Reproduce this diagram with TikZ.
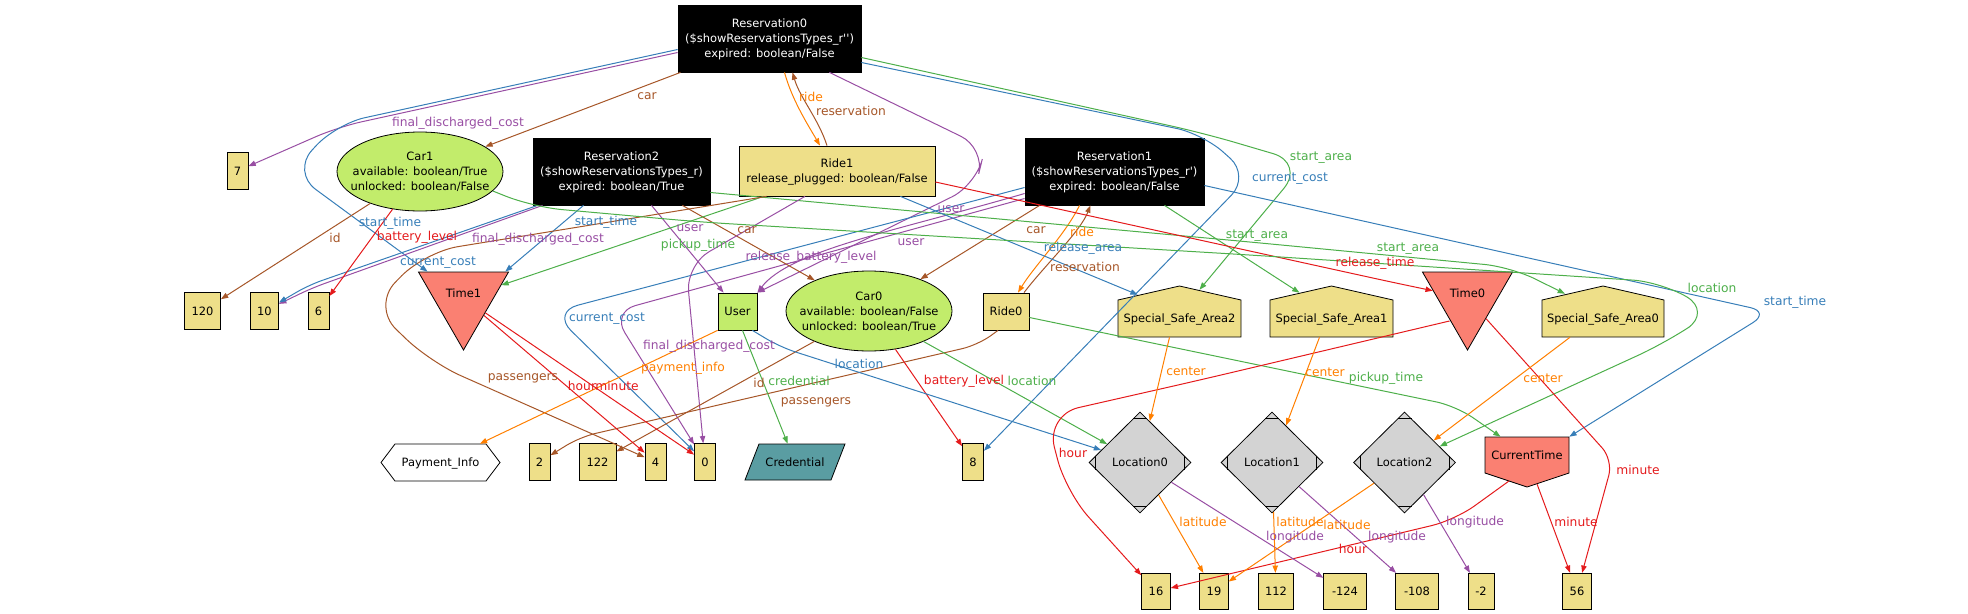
\documentclass[tikz,border=0pt]{standalone}
\usepackage{fontspec}
\setmainfont{DejaVu Sans}[Ligatures=TeXOff]
\usetikzlibrary{arrows.meta,shapes.geometric,calc}
\definecolor{cbr}{RGB}{166,86,40}
\definecolor{cor}{RGB}{255,127,0}
\definecolor{cpu}{RGB}{152,78,163}
\definecolor{cgr}{RGB}{77,175,74}
\definecolor{cbl}{RGB}{55,126,184}
\definecolor{cre}{RGB}{228,26,28}
\definecolor{khaki}{RGB}{238,223,137}
\definecolor{lgreen}{RGB}{194,236,107}
\definecolor{salm}{RGB}{250,128,114}
\definecolor{lgray}{RGB}{211,211,211}
\definecolor{cadet}{RGB}{90,157,162}
\newcommand{\ntx}[2][-3pt]{\makebox[0pt]{\smash{\raisebox{#1}{\begin{tabular}{@{}c@{}}#2\end{tabular}}}}}
\begin{document}
\begin{tikzpicture}[x=0.75pt,y=-0.75pt,
  font=\fontsize{8.6}{11.25}\selectfont,
  base/.style={draw=black, line width=0.6pt, inner sep=0pt},
  res/.style={base, fill=black, text=white, minimum height=50.25pt},
  val/.style={base, fill=khaki, minimum height=27.3pt},
  grn/.style={base, fill=lgreen},
  tri/.style={base, fill=salm, regular polygon, regular polygon sides=3, shape border rotate=180, minimum size=78pt},
  loc/.style={base, fill=lgray, diamond, minimum width=76.5pt, minimum height=75.75pt},
  hid/.style={inner sep=0pt},
  shp/.style={draw=black, line width=0.6pt},
  e/.style={line width=0.75pt, -{Triangle[length=5.5pt,width=4pt]}, rounded corners=10pt},
  lb/.style={inner sep=0.5pt, font=\fontsize{9.2}{11}\selectfont}]
\useasboundingbox (0,0) rectangle (1968,614);

% drawn shapes
\filldraw[shp, fill=khaki] (1118,300) -- (1179.5,286) -- (1241,300) -- (1241,337) -- (1118,337) -- cycle;
\filldraw[shp, fill=khaki] (1270,300) -- (1331.5,286) -- (1393,300) -- (1393,337) -- (1270,337) -- cycle;
\filldraw[shp, fill=khaki] (1542,300) -- (1603,286) -- (1664,300) -- (1664,337) -- (1542,337) -- cycle;
\filldraw[shp, fill=salm] (1485,437) -- (1569,437) -- (1569,473) -- (1527,487) -- (1485,473) -- cycle;
\filldraw[shp, fill=white] (381,462.5) -- (395,444) -- (486,444) -- (500,462.5) -- (486,481) -- (395,481) -- cycle;
\filldraw[shp, fill=cadet] (745,480) -- (759,444) -- (845,444) -- (831,480) -- cycle;

% nodes
\node[res, minimum width=137.25pt] (r0) at (769.5,38.5) {\ntx{Reservation0\\(\$showReservationsTypes\_r'')\\expired: boolean/False}};
\node[res, minimum width=132.75pt] (r2) at (621.5,171.5) {\ntx{Reservation2\\(\$showReservationsTypes\_r)\\expired: boolean/True}};
\node[res, minimum width=134.25pt] (r1) at (1114.5,171.5) {\ntx{Reservation1\\(\$showReservationsTypes\_r')\\expired: boolean/False}};
\node[val, minimum width=147pt, minimum height=37.5pt] (ride1) at (837,171) {\ntx{Ride1\\release\_plugged: boolean/False}};
\node[grn, ellipse, minimum width=124.5pt, minimum height=59.25pt] (car1) at (420,171.5) {\ntx{Car1\\available: boolean/True\\unlocked: boolean/False}};
\node[grn, ellipse, minimum width=124.5pt, minimum height=60pt] (car0) at (869,311) {\ntx{Car0\\available: boolean/False\\unlocked: boolean/True}};
\node[grn, minimum width=29.25pt, minimum height=27.75pt] (user) at (737.5,311.5) {User};
\node[val, minimum width=34.5pt, minimum height=27.75pt] (ride0) at (1006,311.5) {Ride0};

\node[val, minimum width=15.75pt] (v7) at (237.5,171) {7};
\node[val, minimum width=27pt] (v120) at (202.5,311) {120};
\node[val, minimum width=21.5pt] (v10) at (264.3,311) {10};
\node[val, minimum width=15.75pt] (v6) at (318.5,311) {6};
\node[val, minimum width=15.75pt] (v2) at (539.5,462) {2};
\node[val, minimum width=27.75pt] (v122) at (597.5,462) {122};
\node[val, minimum width=15.75pt] (v4) at (655.5,462) {4};
\node[val, minimum width=15.75pt] (v0) at (705,462) {0};
\node[val, minimum width=15.75pt] (v8) at (973,462) {8};
\node[val, minimum width=21.4pt] (v16) at (1156,591.5) {16};
\node[val, minimum width=21.4pt] (v19) at (1214,591.5) {19};
\node[val, minimum width=26.4pt] (v112) at (1276,591.5) {112};
\node[val, minimum width=31.9pt] (vm124) at (1345,591.5) {-124};
\node[val, minimum width=31.9pt] (vm108) at (1417,591.5) {-108};
\node[val, minimum width=19.5pt] (vm2) at (1481,591.5) {-2};
\node[val, minimum width=21.4pt] (v56) at (1577,591.5) {56};

\node[tri] (time1) at (463.5,298) {\ntx[0.75pt]{Time1}};
\node[tri] (time0) at (1467.5,298) {\ntx[0.75pt]{Time0}};

\node[loc] (loc0) at (1140,462.5) {\ntx{Location0}};
\node[loc] (loc1) at (1272,462.5) {\ntx{Location1}};
\node[loc] (loc2) at (1404.5,462.5) {\ntx{Location2}};
\foreach \nm in {loc0,loc1,loc2}{
  \draw[shp] ($(\nm.north)+(-7,7)$) -- ($(\nm.north)+(7,7)$);
  \draw[shp] ($(\nm.south)+(-7,-7)$) -- ($(\nm.south)+(7,-7)$);
  \draw[shp] ($(\nm.west)+(7,-7)$) -- ($(\nm.west)+(7,7)$);
  \draw[shp] ($(\nm.east)+(-7,-7)$) -- ($(\nm.east)+(-7,7)$);
}

\node[hid, minimum width=92.25pt, minimum height=38.25pt] (ssa2) at (1179.5,311.5) {\ntx[-8.25pt]{Special\_Safe\_Area2}};
\node[hid, minimum width=92.25pt, minimum height=38.25pt] (ssa1) at (1331.5,311.5) {\ntx[-8.25pt]{Special\_Safe\_Area1}};
\node[hid, minimum width=92.25pt, minimum height=38.25pt] (ssa0) at (1603,311.5) {\ntx[-8.25pt]{Special\_Safe\_Area0}};
\node[hid, minimum width=63pt, minimum height=27pt] (ct) at (1527,455) {\ntx{CurrentTime}};
\node[hid, minimum width=89.25pt, minimum height=27.75pt] (pay) at (440.5,462.5) {\ntx{Payment\_Info}};
\node[hid, minimum width=75pt, minimum height=27pt] (cred) at (795,462) {\ntx{Credential}};

% Reservation0 edges
\draw[e,cbr] (r0) -- (car1);
\draw[e,cpu, rounded corners=18pt] ($(r0.west)+(0,14)$) -- (338,127) -- (v7);
\draw[e,cbl, rounded corners=22pt] ($(r0.west)+(0,11)$) -- (336,124) -- (292,172) -- (time1);
\draw[e,cor] ($(r0.south)+(15,0)$) .. controls (792,100) and (808,125) .. ($(ride1.north)+(-17,0)$);
\draw[e,cbr] ($(ride1.north)+(-10,0)$) .. controls (818,118) and (800,98) .. ($(r0.south)+(23,0)$);
\draw[e,cgr, rounded corners=25pt] ($(r0.east)+(0,19)$) -- (1203,133) -- (1305,163) -- ($(ssa2.north)+(20,4)$);
\draw[e,cbl, rounded corners=20pt] ($(r0.east)+(0,24)$) -- (1203,134) -- (1250,176) -- (v8);
\draw[e,cpu, rounded corners=20pt] ($(r0.south east)+(-32,0)$) -- (985,148) -- (976,185) -- (user.north east);

% Reservation1 edges
\draw[e,cbr] ($(r1.south west)+(15,0)$) -- (car0);
\draw[e,cor] ($(r1.south)+(-35,0)$) .. controls (1065,235) and (1035,265) .. ($(ride0.north)+(12,0)$);
\draw[e,cbr] ($(ride0.north)+(18,0)$) .. controls (1045,265) and (1080,232) .. ($(r1.south)+(-24,0)$);
\draw[e,cpu] ($(r1.west)+(0,22)$) .. controls (900,230) and (790,250) .. (user.north east);
\draw[e,cpu, rounded corners=18pt] ($(r1.west)+(0,27)$) -- (612,312) -- (v0);
\draw[e,cbl, rounded corners=20pt] ($(r1.west)+(0,16)$) -- (552,312) -- (v0);
\draw[e,cgr] ($(r1.south)+(50,0)$) -- ($(ssa1.north)+(-32,7)$);
\draw[e,cbl, rounded corners=15pt] ($(r1.east)+(0,14)$) -- (1770,312) -- (ct.north east);

% Reservation2 edges
\draw[e,cbr] ($(r2.south east)+(-28,0)$) -- (car0);
\draw[e,cpu] ($(r2.south)+(30,0)$) -- ($(user.north west)+(6,0)$);
\draw[e,cbl] ($(r2.south)+(-38,0)$) -- ($(time1.corner 2)+(-4,0)$);
\draw[e,cpu] ($(r2.south west)+(10,0)$) -- (312,288) -- (v10);
\draw[e,cbl] ($(r2.south west)+(5,0)$) -- (309,285) -- (v10);
\draw[e,cgr, rounded corners=20pt] ($(r2.east)+(0,21)$) -- (1250,242) -- (1511,267) -- ($(ssa0.north)+(-38,8)$);

% Ride1 edges
\draw[e,cgr] ($(ride1.south west)+(25,0)$) -- (time1);
\draw[e,cre, rounded corners=15pt] ($(ride1.east)+(0,11)$) -- (1391,282) -- (time0);
\draw[e,cbl] ($(ride1.south east)+(-35,0)$) -- ($(ssa2.north west)+(20,9)$);
\draw[e,cpu, rounded corners=20pt] ($(ride1.south)+(-32,0)$) -- (686,265) -- (v0);
\draw[e,cbr, rounded corners=25pt] ($(ride1.south west)+(28,0)$) -- (425,252) -- (372,306) -- (430,362) -- (v4);

% Ride0 edges
\draw[e,cbr, rounded corners=12pt] ($(ride0.south)+(-8,0)$) -- (978,345) -- (580,437) -- (v2);
\draw[e,cgr, rounded corners=15pt] ($(ride0.east)+(0,6)$) -- (1456,406) -- (ct);

% Car edges
\draw[e,cbr] (car1) -- (v120);
\draw[e,cre] (car1) -- (v6);
\draw[e,cgr, rounded corners=22pt] (car1.-15) -- (533,207) -- (700,222) -- (1250,255) -- (1662,282) -- (1712,312) -- (1665,343) -- (loc2);
\draw[e,cbr] (car0) -- (v122);
\draw[e,cre] (car0) -- (v8);
\draw[e,cgr] (car0) -- (loc0);

% User edges
\draw[e,cor] (user.south west) -- (pay);
\draw[e,cgr] ($(user.south)+(5,0)$) -- (cred);
\draw[e,cbl, rounded corners=12pt] ($(user.south east)+(-5,0)$) -- (780,347) -- (loc0);

% Time edges
\draw[e,cre] (time1) -- (v4);
\draw[e,cre] (time1) -- (v0);
\draw[e,cre, rounded corners=25pt] ($(time0)+(-18,23)$) -- (1200,380) -- (1046,415) -- (1066,492) -- (v16);
\draw[e,cre, rounded corners=12pt] (time0) -- (1613,460) -- (v56);
\draw[e,cre, rounded corners=18pt] ($(ct)+(-18,26)$) -- (1455,520) -- (v16);
\draw[e,cre] ($(ct)+(10,29)$) -- (v56);

% Special safe areas
\draw[e,cor] ($(ssa2.south)+(-10,0)$) -- (loc0);
\draw[e,cor] ($(ssa1.south)+(-12,0)$) -- (loc1);
\draw[e,cor] ($(ssa0.south)+(-33,0)$) -- (loc2);

% Locations
\draw[e,cor] (loc0) -- (v19);
\draw[e,cpu] (loc0) -- (vm124);
\draw[e,cor] (loc1) -- (v112);
\draw[e,cpu] (loc1) -- (vm108);
\draw[e,cor] (loc2) -- (v19);
\draw[e,cpu] (loc2) -- (vm2);

% labels
\node[lb,text=cbr] (l1) at (647,96) {car};
\node[lb,text=cor] (l2) at (811,97) {ride};
\node[lb,text=cbr] (l3) at (851,111) {reservation};
\node[lb,text=cpu] (l4) at (458,123) {final\_discharged\_cost};
\node[lb,text=cgr] (l5) at (1321,158) {start\_area};
\node[lb,text=cbl] (l6) at (1290,179) {current\_cost};
\node[lb,text=cpu] (l7) at (951,209) {user};
\node[lb,text=cbl] (l8) at (390,223) {start\_time};
\node[lb,text=cbr] (l9) at (335,238) {id};
\node[lb,text=cre] (l10) at (417,237) {battery\_level};
\node[lb,text=cpu] (l11) at (538,239) {final\_discharged\_cost};
\node[lb,text=cbl] (l12) at (606,222) {start\_time};
\node[lb,text=cbl] (l13) at (438,263) {current\_cost};
\node[lb,text=cpu] (l14) at (690,228) {user};
\node[lb,text=cgr] (l15) at (698,245) {pickup\_time};
\node[lb,text=cbr] (l16) at (747,230) {car};
\node[lb,text=cpu] (l17) at (811,257) {release\_battery\_level};
\node[lb,text=cpu] (l18) at (911,242) {user};
\node[lb,text=cbr] (l19) at (1036,230) {car};
\node[lb,text=cor] (l20) at (1082,232) {ride};
\node[lb,text=cbl] (l21) at (1083,248) {release\_area};
\node[lb,text=cbr] (l22) at (1085,267) {reservation};
\node[lb,text=cgr] (l23) at (1257,236) {start\_area};
\node[lb,text=cgr] (l24) at (1408,249) {start\_area};
\node[lb,text=cre] (l25) at (1375,263) {release\_time};
\node[lb,text=cgr] (l26) at (1712,288) {location};
\node[lb,text=cbl] (l27) at (1795,302) {start\_time};
\node[lb,text=cbl] (l28) at (607,319) {current\_cost};
\node[lb,text=cpu] (l29) at (709,346) {final\_discharged\_cost};
\node[lb,text=cor] (l30) at (683,368) {payment\_info};
\node[lb,text=cbr] (l31) at (759,383) {id};
\node[lb,text=cgr] (l32) at (799,381) {credential};
\node[lb,text=cbl] (l33) at (859,364) {location};
\node[lb,text=cre] (l34) at (964,381) {battery\_level};
\node[lb,text=cgr] (l35) at (1032,381) {location};
\node[lb,text=cbr] (l36) at (816,402) {passengers};
\node[lb,text=cbr] (l37) at (523,378) {passengers};
\node[lb,text=cre] (l38) at (582,386) {hour};
\node[lb,text=cre] (l39) at (617,386) {minute};
\node[lb,text=cor] (l40) at (1186,371) {center};
\node[lb,text=cor] (l41) at (1325,372) {center};
\node[lb,text=cor] (l42) at (1543,378) {center};
\node[lb,text=cre] (l43) at (1073,453) {hour};
\node[lb,text=cgr] (l44) at (1386,378) {pickup\_time};
\node[lb,text=cor] (l45) at (1203,522) {latitude};
\node[lb,text=cpu] (l46) at (1295,537) {longitude};
\node[lb,text=cor] (l47) at (1300,522) {latitude};
\node[lb,text=cpu] (l48) at (1397,537) {longitude};
\node[lb,text=cor] (l49) at (1347,525) {latitude};
\node[lb,text=cpu] (l50) at (1475,522) {longitude};
\node[lb,text=cre] (l51) at (1353,549) {hour};
\node[lb,text=cre] (l52) at (1576,522) {minute};
\node[lb,text=cre] (l53) at (1638,470) {minute};
\end{tikzpicture}
\end{document}
